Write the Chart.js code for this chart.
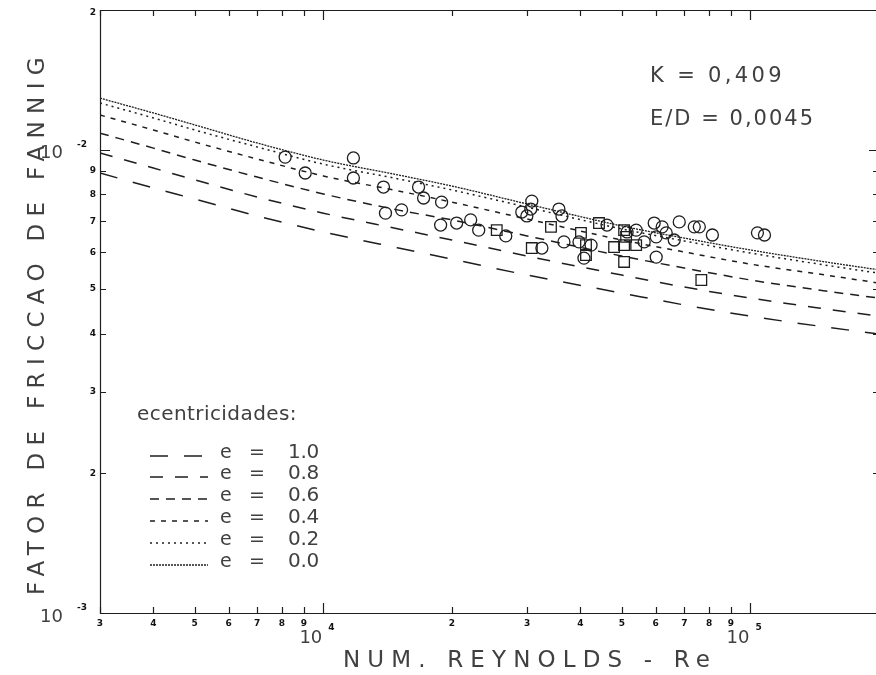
<!DOCTYPE html>
<html><head><meta charset="utf-8">
<script src="https://cdn.jsdelivr.net/npm/chart.js@4/dist/chart.umd.min.js"></script>
<style>
html,body{margin:0;padding:0;overflow:hidden;background:#fff;width:876px;height:675px}
#wrap{position:absolute;left:0;top:0;width:890px;height:675px}
</style></head>
<body><div id="wrap"><canvas id="c" width="890" height="675"></canvas></div>
<script>
// ---- data ----
const reynoldsGrid = [3000,4000,5000,7000,10000,15000,20000,30000,50000,70000,100000,150000,200000];
const fannigE00 = [0.01291,0.01199,0.01130,0.01033,0.00949,0.00881,0.00834,0.00763,0.00684,0.00644,0.00607,0.00572,0.00550];
const fannigE02 = [0.01260,0.01170,0.01102,0.01013,0.00930,0.00864,0.00818,0.00751,0.00674,0.00635,0.00598,0.00563,0.00541];
const fannigE04 = [0.01187,0.01102,0.01038,0.00954,0.00877,0.00814,0.00770,0.00708,0.00638,0.00601,0.00566,0.00536,0.00515];
const fannigE06 = [0.01085,0.01007,0.00949,0.00872,0.00802,0.00740,0.00705,0.00651,0.00589,0.00555,0.00523,0.00495,0.00478];
const fannigE08 = [0.00983,0.00912,0.00860,0.00790,0.00729,0.00674,0.00638,0.00589,0.00536,0.00505,0.00478,0.00453,0.00437];
const fannigE10 = [0.00890,0.00826,0.00782,0.00719,0.00664,0.00613,0.00580,0.00536,0.00490,0.00462,0.00437,0.00414,0.00400];

const circleRe = [8140,11760,9070,11760,13830,16710,17170,18920,13980,15250,18820,20520,22130,23110,26740,
  30770,30600,29150,29960,35610,36200,36590,32490,46160,39680,42350,40760,51440,54010,56400,59520,62140,
  63500,60170,66310,60170,68130,73880,75920,81450,103850,107870];
const circleF = [0.00963,0.00959,0.00890,0.00868,0.00830,0.00830,0.00786,0.00770,0.00729,0.00741,0.00687,0.00694,0.00705,0.00670,0.00651,
  0.00774,0.00744,0.00733,0.00719,0.00744,0.00719,0.00632,0.00613,0.00687,0.00632,0.00622,0.00583,0.00664,0.00670,0.00632,0.00694,0.00681,
  0.00661,0.00648,0.00638,0.00586,0.00698,0.00681,0.00681,0.00654,0.00661,0.00654];
const squareRe = [25470,34120,30770,44200,40110,41210,41210,50610,51160,47950,50610,54010,50610,76740];
const squareF  = [0.00670,0.00681,0.00613,0.00694,0.00661,0.00622,0.00592,0.00670,0.00648,0.00616,0.00622,0.00622,0.00572,0.00523];

const eccentricities = ['1.0','0.8','0.6','0.4','0.2','0.0'];
const xTickValues = [3000,4000,5000,6000,7000,8000,9000,10000,20000,30000,40000,50000,60000,70000,80000,90000,100000,200000];
const xTickLabels = ['3','4','5','6','7','8','9','10^4','2','3','4','5','6','7','8','9','10^5','2'];
const yTickValues = [0.001,0.002,0.003,0.004,0.005,0.006,0.007,0.008,0.009,0.01,0.02];
const yTickLabels = ['10^-3','2','3','4','5','6','7','8','9','10^-2','2'];
const xTitle = 'NUM. REYNOLDS - Re';
const yTitle = 'FATOR DE FRICCAO DE FANNIG';
const noteLines = ['K = 0,409','E/D = 0,0045'];
const legendTitle = 'ecentricidades:';

// ---- chart ----
const INK = '#1e1e1e';
const TXT = '#404040';
const FONT = "'DejaVu Sans', 'Liberation Sans', sans-serif";
const pts = (xs, ys) => xs.map((x, i) => ({x, y: ys[i]}));
const curveStyle = {
  '0.0': {dash: [2, 1], w: 1.3},
  '0.2': {dash: [2, 4], w: 1.5},
  '0.4': {dash: [5, 6], w: 1.5},
  '0.6': {dash: [9, 7], w: 1.5},
  '0.8': {dash: [13, 12], w: 1.5},
  '1.0': {dash: [18, 16], w: 1.5}
};
const curveData = {'0.0': fannigE00, '0.2': fannigE02, '0.4': fannigE04, '0.6': fannigE06, '0.8': fannigE08, '1.0': fannigE10};
const lineSets = ['0.0','0.2','0.4','0.6','0.8','1.0'].map(e => ({
  label: 'e = ' + e, ecc: e,
  data: pts(reynoldsGrid, curveData[e]),
  showLine: true, pointRadius: 0, borderColor: INK, borderWidth: curveStyle[e].w,
  borderDash: curveStyle[e].dash, cubicInterpolationMode: 'monotone', fill: false
}));

function fitText(ctx, text, x, y, width, font) {
  ctx.font = font; ctx.letterSpacing = '0px';
  const w = ctx.measureText(text).width;
  const n = [...text].length;
  const sp = (width - w) / n;
  ctx.letterSpacing = sp.toFixed(2) + 'px';
  ctx.textAlign = 'left';
  ctx.fillText(text, x, y);
  ctx.letterSpacing = '0px';
}

const decoPlugin = {
  id: 'deco',
  afterDraw(chart) {
    const ctx = chart.ctx, a = chart.chartArea, xs = chart.scales.x, ys = chart.scales.y;
    ctx.save();
    ctx.strokeStyle = INK; ctx.lineWidth = 1.2; ctx.setLineDash([]);
    ctx.beginPath();
    ctx.moveTo(a.left + 0.5, a.top); ctx.lineTo(a.left + 0.5, a.bottom + 0.5); ctx.lineTo(a.right, a.bottom + 0.5);
    ctx.moveTo(a.left, a.top + 0.5); ctx.lineTo(a.right, a.top + 0.5);
    ctx.moveTo(a.right - 0.5, a.top); ctx.lineTo(a.right - 0.5, a.bottom);
    ctx.stroke();
    // ticks (inward on all sides)
    xTickValues.forEach((v, i) => {
      const px = Math.round(xs.getPixelForValue(v)) + 0.5;
      const L = xTickLabels[i].includes('^') ? 10 : 6;
      ctx.beginPath();
      ctx.moveTo(px, a.bottom); ctx.lineTo(px, a.bottom - L);
      ctx.moveTo(px, a.top); ctx.lineTo(px, a.top + L);
      ctx.stroke();
    });
    yTickValues.forEach((v, i) => {
      const py = Math.round(ys.getPixelForValue(v)) + 0.5;
      const L = yTickLabels[i].includes('^') ? 10 : 6;
      ctx.beginPath();
      ctx.moveTo(a.left, py); ctx.lineTo(a.left + L, py);
      ctx.moveTo(a.right, py); ctx.lineTo(a.right - L, py);
      ctx.stroke();
    });
    // tick labels
    ctx.textBaseline = 'middle';
    xTickValues.forEach((v, i) => {
      const px = xs.getPixelForValue(v);
      const lab = xTickLabels[i];
      if (lab.includes('^')) {
        const [b, e] = lab.split('^');
        ctx.font = '18px ' + FONT; ctx.fillStyle = TXT; ctx.textAlign = 'right';
        ctx.fillText(b, px - 1, a.bottom + 25);
        ctx.font = 'bold 9px ' + FONT; ctx.fillStyle = '#111'; ctx.textAlign = 'left';
        ctx.fillText(e, px + 5, a.bottom + 15);
      } else {
        ctx.font = 'bold 9px ' + FONT; ctx.fillStyle = '#111'; ctx.textAlign = 'center';
        ctx.fillText(lab, px, a.bottom + 11);
      }
    });
    yTickValues.forEach((v, i) => {
      const py = ys.getPixelForValue(v);
      const lab = yTickLabels[i];
      if (lab.includes('^')) {
        const [b, e] = lab.split('^');
        ctx.font = '18px ' + FONT; ctx.fillStyle = TXT; ctx.textAlign = 'right';
        ctx.fillText(b, 63, py + 4);
        ctx.font = 'bold 9px ' + FONT; ctx.fillStyle = '#111'; ctx.textAlign = 'left';
        ctx.fillText(e, 77, py - 5);
      } else {
        ctx.font = 'bold 9px ' + FONT; ctx.fillStyle = '#111'; ctx.textAlign = 'right';
        ctx.fillText(lab, a.left - 4, py + (i === yTickValues.length - 1 ? 3 : 0));
      }
    });
    // axis titles
    ctx.fillStyle = TXT; ctx.textBaseline = 'alphabetic';
    fitText(ctx, xTitle, 343, 667, 374, '23px ' + FONT);
    ctx.save();
    ctx.translate(44, 595); ctx.rotate(-Math.PI / 2);
    fitText(ctx, yTitle, 0, 0, 545, '23px ' + FONT);
    ctx.restore();
    // notes
    fitText(ctx, noteLines[0], 650, 82, 135, '21px ' + FONT);
    fitText(ctx, noteLines[1], 650, 125, 165, '21px ' + FONT);
    // legend
    fitText(ctx, legendTitle, 137, 420, 160, '20px ' + FONT);
    const rowsY = [453, 474, 496, 518, 540, 562];
    eccentricities.forEach((e, i) => {
      const ds = lineSets.find(d => d.ecc === e);
      const y = rowsY[i];
      ctx.strokeStyle = INK; ctx.lineWidth = ds.borderWidth; ctx.setLineDash(ds.borderDash);
      ctx.beginPath(); ctx.moveTo(150, y + 3); ctx.lineTo(208, y + 3); ctx.stroke();
      ctx.setLineDash([]);
      ctx.fillStyle = TXT; ctx.textBaseline = 'middle';
      ctx.font = '19px ' + FONT; ctx.textAlign = 'left';
      ctx.fillText('e', 220, y);
      ctx.fillText('=', 249, y);
      fitText(ctx, e, 288, y, 31, '20px ' + FONT);
    });
    ctx.restore();
  }
};

new Chart(document.getElementById('c'), {
  type: 'scatter',
  data: {
    datasets: [
      ...lineSets,
      {label: 'circulos', data: pts(circleRe, circleF), pointStyle: 'circle', pointRadius: 6,
        borderColor: INK, borderWidth: 1.3, backgroundColor: 'rgba(0,0,0,0)', showLine: false},
      {label: 'quadrados', data: pts(squareRe, squareF), pointStyle: 'rect', pointRadius: 7.5,
        borderColor: INK, borderWidth: 1.3, backgroundColor: 'rgba(0,0,0,0)', showLine: false}
    ]
  },
  options: {
    responsive: false, animation: false, devicePixelRatio: 1,
    layout: {padding: {left: 100, right: 11, top: 10, bottom: 62}},
    plugins: {legend: {display: false}, tooltip: {enabled: false}},
    scales: {
      x: {type: 'logarithmic', min: 3000, max: 200000, display: false},
      y: {type: 'logarithmic', min: 0.001, max: 0.02, display: false}
    }
  },
  plugins: [decoPlugin]
});
</script>
</body></html>
